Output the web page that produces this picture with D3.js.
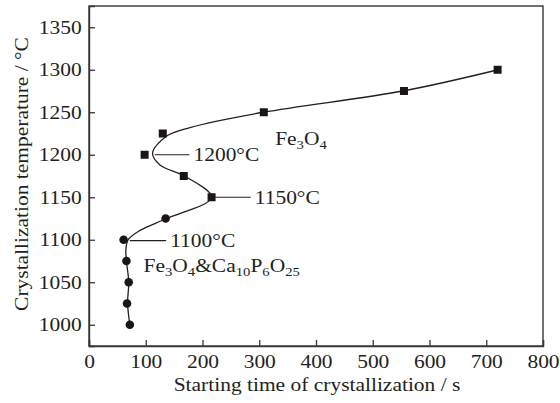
<!DOCTYPE html>
<html>
<head>
<meta charset="utf-8">
<script src="https://cdn.jsdelivr.net/npm/d3@7"></script>
<style>
  body { margin: 0; background: #fff; }
  text { font-family: "Liberation Serif", "Times New Roman", serif; fill: #231f20; }
</style>
</head>
<body>
<script>
// Fe3O4 only (squares)
const squareTime = [720, 555, 308, 130, 98, 167, 216];
const squareTemp = [1300, 1275, 1250, 1225, 1200, 1175, 1150];
// Fe3O4 & Ca10P6O25 (circles)
const circleTime = [135, 61, 66, 70, 67, 72];
const circleTemp = [1125, 1100, 1075, 1050, 1025, 1000];
// fitted C-curve
const fitTime = [721, 553, 307, 178, 137, 112, 125, 168, 216, 137, 90, 69, 65, 66, 70, 68, 72];
const fitTemp = [1300, 1275, 1250, 1232, 1222, 1202, 1188, 1175, 1150, 1125, 1111, 1100, 1088, 1075, 1050, 1025, 1000];

const xTicks = [0, 100, 200, 300, 400, 500, 600, 700, 800];
const yTicks = [1000, 1050, 1100, 1150, 1200, 1250, 1300, 1350];

// nose temperatures with leader lines (time from / to)
const noseLabels = ["1200\u00b0C", "1150\u00b0C", "1100\u00b0C"];
const noseTemp = [1200, 1150, 1099];
const noseFrom = [116, 216, 72];
const noseTo = [177, 285, 136];

const margin = { top: 6, right: 17, bottom: 57, left: 89 },
      width = 560 - margin.left - margin.right,
      height = 403 - margin.top - margin.bottom;

// the reference type is a bit wider than Liberation Serif
const fs = 19, wide = "scale(1.13,1)";

let x = d3.scaleLinear().domain([0, 800]).range([0, width]);
let y = d3.scaleLinear().domain([975, 1375]).range([height, 0]);

let svg = d3.select("body").append("svg")
    .attr("width", 560)
    .attr("height", 403)
    .append("g")
    .attr("transform", "translate(" + margin.left + "," + margin.top + ")");

const axisColor = "#3a3536";

// frame
svg.append("rect")
    .attr("width", width).attr("height", height)
    .attr("fill", "none").attr("stroke", axisColor).attr("stroke-width", 1.4);

let xAxis = svg.append("g")
    .attr("transform", "translate(0," + height + ")")
    .call(d3.axisBottom(x).tickValues(xTicks).tickSize(-6).tickPadding(8.5).tickFormat(d3.format("d")));
let yAxis = svg.append("g")
    .call(d3.axisLeft(y).tickValues(yTicks).tickSize(-6).tickPadding(6.5).tickFormat(d3.format("d")));

[xAxis, yAxis].forEach(function (a) {
    a.select(".domain").attr("stroke", axisColor).attr("stroke-width", 1.4);
    a.selectAll(".tick line").attr("stroke", axisColor).attr("stroke-width", 1.3);
    a.selectAll("text").attr("font-size", fs).attr("fill", "#231f20").attr("transform", wide);
});

// axis titles
svg.append("text")
    .attr("transform", "translate(" + (width / 2 + 1) + "," + (height + 45) + ") " + wide)
    .attr("text-anchor", "middle").attr("font-size", fs)
    .text("Starting time of crystallization / s");
svg.append("text")
    .attr("transform", "translate(" + (-61.5) + "," + (height / 2 - 2) + ") rotate(-90) " + wide)
    .attr("text-anchor", "middle").attr("font-size", fs)
    .text("Crystallization temperature / \u00b0C");

// fitted curve
let fit = fitTime.map(function (t, i) { return [t, fitTemp[i]]; });
let line = d3.line()
    .x(function (d) { return x(d[0]); })
    .y(function (d) { return y(d[1]); })
    .curve(d3.curveCatmullRom.alpha(0.5));
svg.append("path")
    .datum(fit)
    .attr("d", line)
    .attr("fill", "none").attr("stroke", "#231f20").attr("stroke-width", 1.3);

// leader lines and labels
noseLabels.forEach(function (lab, i) {
    svg.append("line")
        .attr("x1", x(noseFrom[i])).attr("x2", x(noseTo[i]))
        .attr("y1", y(noseTemp[i])).attr("y2", y(noseTemp[i]))
        .attr("stroke", "#231f20").attr("stroke-width", 1.2);
    svg.append("text")
        .attr("transform", "translate(" + (x(noseTo[i]) + 4) + "," + (y(noseTemp[i]) + 6.4) + ") " + wide)
        .attr("font-size", fs)
        .text(lab);
});

// markers
svg.selectAll(".sq")
    .data(squareTime)
    .enter().append("rect")
    .attr("class", "sq")
    .attr("x", function (d) { return x(d) - 4; })
    .attr("y", function (d, i) { return y(squareTemp[i]) - 4; })
    .attr("width", 8).attr("height", 8)
    .attr("fill", "#1c1517");

svg.selectAll(".dot")
    .data(circleTime)
    .enter().append("circle")
    .attr("class", "dot")
    .attr("r", 4.3)
    .attr("cx", function (d) { return x(d); })
    .attr("cy", function (d, i) { return y(circleTemp[i]); })
    .attr("fill", "#1c1517");

// phase labels with subscripts
function chem(px, py, parts) {
    let t = svg.append("text")
        .attr("transform", "translate(" + px + "," + py + ") " + wide)
        .attr("font-size", fs);
    let sub = false;
    parts.forEach(function (p) {
        if (p[1]) {
            t.append("tspan").attr("font-size", 13).attr("dy", sub ? 0 : 4).text(p[0]);
            sub = true;
        } else {
            t.append("tspan").attr("dy", sub ? -4 : 0).text(p[0]);
            sub = false;
        }
    });
}
chem(x(328), y(1211), [["Fe"], ["3", 1], ["O"], ["4", 1]]);
chem(x(96), y(1062.5), [["Fe"], ["3", 1], ["O"], ["4", 1], ["&"], ["Ca"], ["10", 1], ["P"], ["6", 1], ["O"], ["25", 1]]);
</script>
</body>
</html>
